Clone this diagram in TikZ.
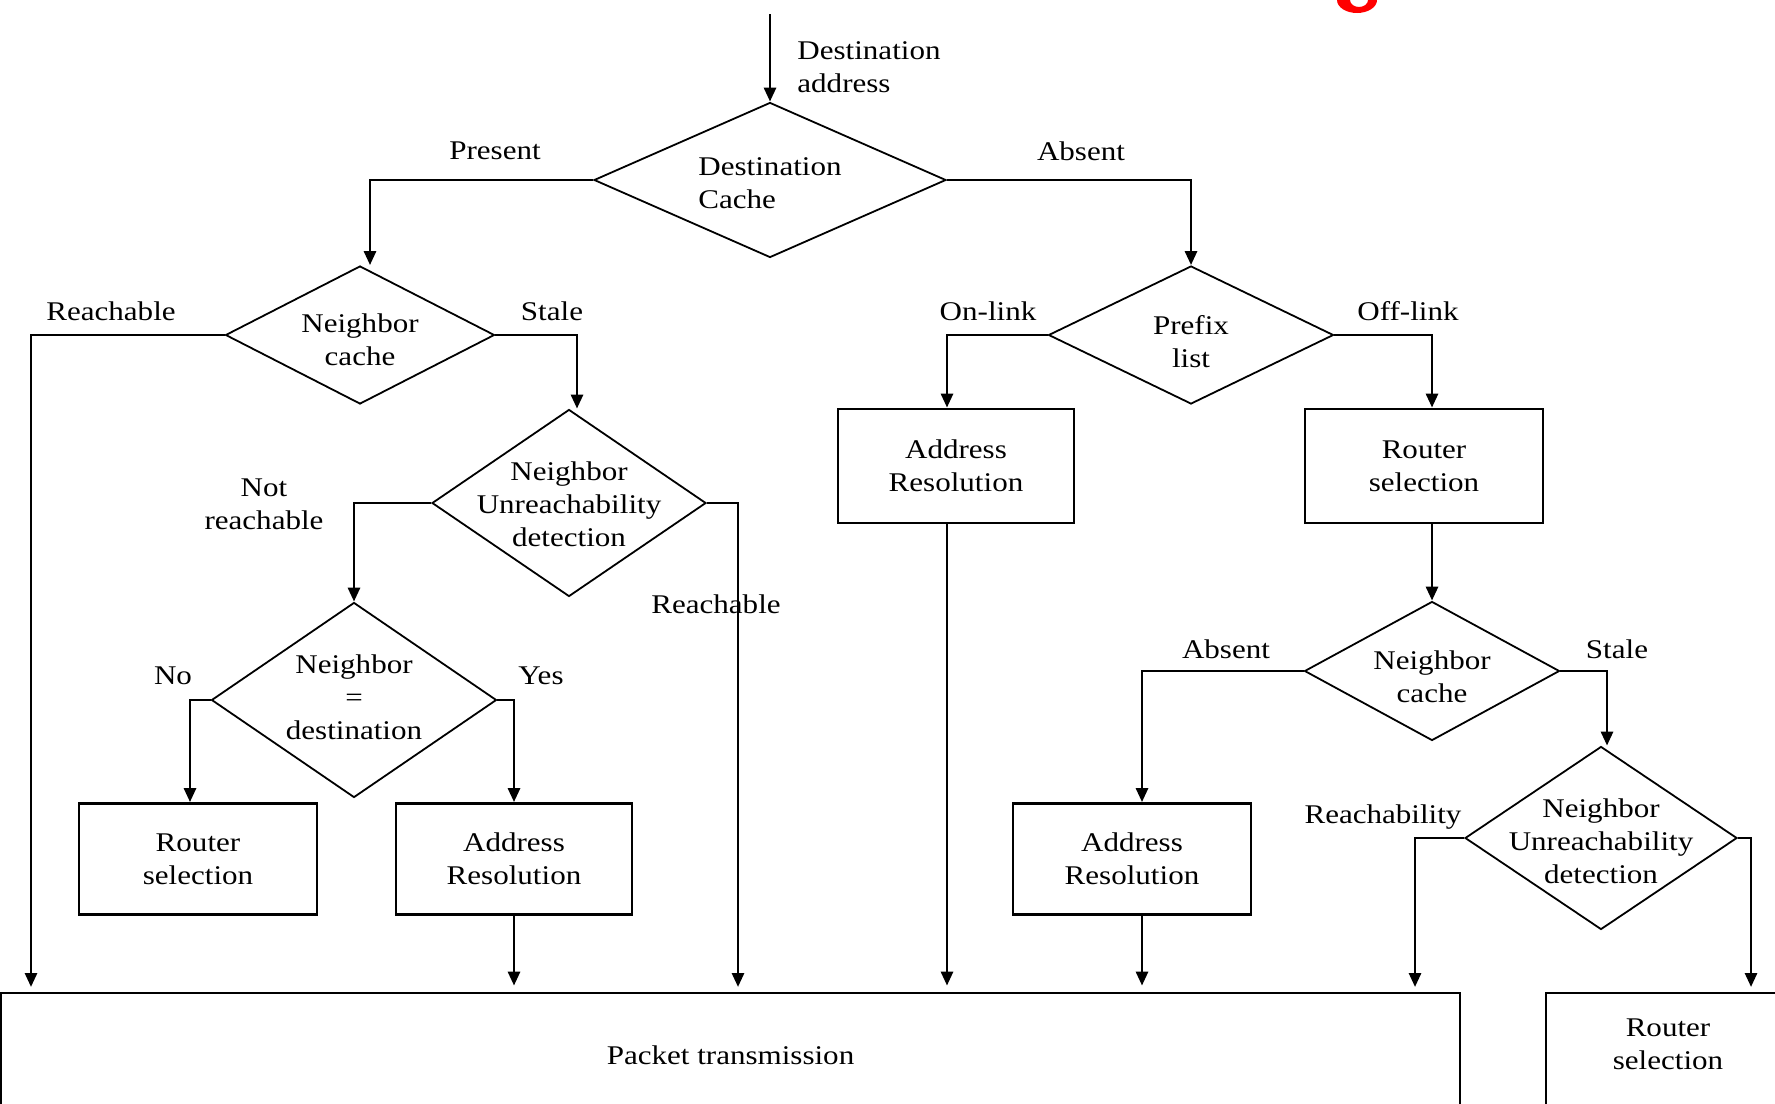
\documentclass[tikz,border=0pt]{standalone}
\usepackage{fontspec}
\setmainfont{Liberation Serif}[FakeStretch=1.15]
\usetikzlibrary{shapes.geometric,arrows.meta}

\newcommand{\dlines}[3][c]{\makebox[0pt]{\raisebox{#2}[0pt][0pt]{\begin{tabular}{@{}#1@{}}#3\end{tabular}}}}

\begin{document}
\begin{tikzpicture}[x=0.5pt, y=-0.5pt,
      every node/.style={font=\fontsize{13.5}{16.5}\selectfont},
      dec/.style={diamond, draw, line width=0.9pt, inner sep=0pt},
      box/.style={rectangle, draw, line width=1.4pt, inner sep=0pt, align=center},
      lbl/.style={align=center, inner sep=0pt},
      conn/.style={line width=1.4pt, -{Triangle[width=6pt,length=7pt]}},
      intx/.style={conn, shorten >=3pt}]

      \useasboundingbox (0,0) rectangle (1775,1103);
      \clip (0,0) rectangle (1775,1103);

      \fill[red, even odd rule] (1357,0) ellipse [x radius=10pt, y radius=6.5pt]
            (1359,0) ellipse [x radius=4.5pt, y radius=3.5pt];

      \node[dec, minimum width=176pt, minimum height=77.5pt] (dc) at (770,180) {\dlines[l]{-6.4pt}{Destination\\Cache}};
      \node[dec, minimum width=134.5pt, minimum height=69pt] (nc1) at (360,335) {\dlines{-7.4pt}{Neighbor\\cache}};
      \node[dec, minimum width=137pt, minimum height=93.5pt] (nud1) at (569,503) {\dlines{-5.4pt}{Neighbor\\Unreachability\\detection}};
      \node[dec, minimum width=142.5pt, minimum height=97.5pt] (nd) at (354,700) {\dlines{-3.4pt}{Neighbor\\=\\destination}};
      \node[dec, minimum width=142.5pt, minimum height=69pt] (pl) at (1191,335) {\dlines{-8.4pt}{Prefix\\list}};
      \node[dec, minimum width=127.5pt, minimum height=69.5pt] (nc2) at (1432,671) {\dlines{-7.9pt}{Neighbor\\cache}};
      \node[dec, minimum width=136pt, minimum height=91.5pt] (nud2) at (1601,838) {\dlines{-6.4pt}{Neighbor\\Unreachability\\detection}};

      \node[box, minimum width=119pt, minimum height=55.5pt] (rs1) at (198,859) {Router\\selection};
      \node[box, minimum width=118pt, minimum height=55.5pt] (ar1) at (514,859) {Address\\Resolution};
      \node[box, minimum width=118pt, minimum height=57pt] (ar2) at (956,466) {Address\\Resolution};
      \node[box, minimum width=119pt, minimum height=57pt] (rs2) at (1424,466) {Router\\selection};
      \node[box, minimum width=119pt, minimum height=55.5pt] (ar3) at (1132,859) {Address\\Resolution};
      \node[box, minimum width=729.5pt, minimum height=62pt] (pt) at (730.5,1055) {Packet transmission};
      \node[box, minimum width=122pt, minimum height=62pt] (rs3) at (1668,1055) {};
      \node[lbl] (rs3t) at (1668,1044) {Router\\selection};

      \node[lbl, anchor=west, align=left] (dalbl) at (797,67) {Destination\\address};
      \node[lbl] (prlbl) at (495,151) {Present};
      \node[lbl] (ablbl) at (1081,151) {Absent};
      \node[lbl] (rclbl) at (111,311) {Reachable};
      \node[lbl] (stlbl) at (552,311) {Stale};
      \node[lbl] (nrlbl) at (264,504) {Not\\reachable};
      \node[lbl] (rblbl) at (716,604) {Reachable};
      \node[lbl] (nolbl) at (173,676) {No};
      \node[lbl] (yslbl) at (541,676) {Yes};
      \node[lbl] (onlbl) at (988,311) {On-link};
      \node[lbl] (oflbl) at (1408,311) {Off-link};
      \node[lbl] (ab2lbl) at (1226,649) {Absent};
      \node[lbl] (st2lbl) at (1617,649) {Stale};
      \node[lbl] (rtlbl) at (1383,817) {Reachability};

      \coordinate (src) at (770,14);
      \coordinate (inA) at (31,993);
      \coordinate (inB) at (738,993);
      \coordinate (inC) at (1415,993);
      \coordinate (inD) at (1751,993);

      \draw[conn] (src) -- (dc.north);
      \draw[conn] (dc.west) -| ([xshift=5pt]nc1.north);
      \draw[conn] (dc.east) -| (pl.north);
      \draw[intx] (nc1.west) -| (inA);
      \draw[conn] (nc1.east) -| ([xshift=4pt]nud1.north);
      \draw[conn] (nud1.west) -| (nd.north);
      \draw[intx] (nud1.east) -| (inB);
      \draw[conn] (nd.west) -| ([xshift=-4pt]rs1.north);
      \draw[conn] (nd.east) -| (ar1.north);
      \draw[intx] (ar1.south) -- (ar1.south |- pt.north);
      \draw[conn] (pl.west) -| ([xshift=-4.5pt]ar2.north);
      \draw[conn] (pl.east) -| ([xshift=4pt]rs2.north);
      \draw[intx] ([xshift=-4.5pt]ar2.south) -- ([xshift=-4.5pt]ar2.south |- pt.north);
      \draw[conn] ([xshift=4pt]rs2.south) -- (nc2.north);
      \draw[conn] (nc2.west) -| ([xshift=5pt]ar3.north);
      \draw[intx] ([xshift=5pt]ar3.south) -- ([xshift=5pt]ar3.south |- pt.north);
      \draw[conn] (nc2.east) -| ([xshift=3pt]nud2.north);
      \draw[intx] (nud2.west) -| (inC);
      \draw[intx] (nud2.east) -| (inD);

\end{tikzpicture}
\end{document}
